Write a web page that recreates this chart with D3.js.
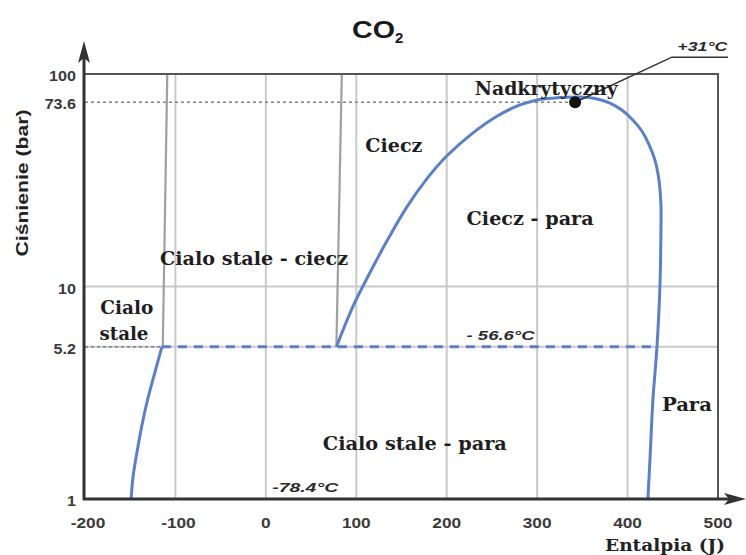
<!DOCTYPE html>
<html><head><meta charset="utf-8">
<script src="https://cdn.jsdelivr.net/npm/d3@7"></script>
<style>body{margin:0;background:#fff}svg{display:block}</style>
</head><body><svg id="c" width="746" height="555"></svg>
<script>
// ---- data ----
const xTicks = [-200, -100, 0, 100, 200, 300, 400, 500];
const yTicks = [1, 5.2, 10, 73.6, 100];
const yTickLabels = ["1", "5.2", "10", "73.6", "100"];
const gridX = [-100, 0, 100, 200, 300, 400];
const gridY = [5.2, 10];
// saturation dome (enthalpy J, pressure bar)
const domeH = [78, 96, 115, 134, 156, 178, 200, 226, 256, 281, 303, 325, 347, 364, 380.6, 393.6, 405.8, 415.8, 423.5, 430.2, 434.7, 436.9, 436.9, 435.8, 432.5, 428, 425, 422.5];
const domeP = [5.2, 8.0, 11.6, 16.4, 23.7, 32.1, 41.1, 51.6, 63.4, 71.5, 75.9, 77.5, 77.9, 76.7, 73.0, 67.7, 60.8, 53.9, 46.8, 39.4, 31.7, 24.2, 18.4, 10, 5.2, 2.92, 1.61, 1];
// sublimation curve
const sublH = [-115, -122.6, -130.3, -137, -142.5, -146.9, -149];
const sublP = [5.2, 3.96, 2.99, 2.23, 1.66, 1.27, 1];
// melting lines
const meltSolidH = [-114, -109], meltSolidP = [5.2, 100];
const meltLiquidH = [78, 84], meltLiquidP = [5.2, 100];
// triple point line
const tripleP = 5.2, tripleH = [-115, 432.5];
// critical point
const critH = 342, critP = 73.6;
const leaderH = [342, 449, 511], leaderP = [73.6, 120, 120];

// ---- setup ----
const svg = d3.select("#c");
const W = 746, H = 555;
const x = d3.scaleLinear().domain([-200, 500]).range([85, 718]);
const y = d3.scaleLog().domain([1, 100]).range([499, 74]);
const line = d3.line().x(d => x(d[0])).y(d => y(d[1]));
const smooth = d3.line().x(d => x(d[0])).y(d => y(d[1])).curve(d3.curveCatmullRom.alpha(0.5));
const zip = (a, b) => a.map((v, i) => [v, b[i]]);

const SERIF = "'DejaVu Serif', 'Liberation Serif', serif";
const SANS = "'Liberation Sans', Arial, sans-serif";
const BLUE = "#5a80cb";

svg.append("rect").attr("width", W).attr("height", H).attr("fill", "#fff");

// grid
svg.append("g").selectAll("line").data(gridX).join("line")
  .attr("x1", d => x(d)).attr("x2", d => x(d))
  .attr("y1", y(1)).attr("y2", y(100))
  .attr("stroke", "#c9c9c9").attr("stroke-width", 2);
svg.append("g").selectAll("line").data(gridY).join("line")
  .attr("x1", x(-200)).attr("x2", x(500))
  .attr("y1", d => y(d)).attr("y2", d => y(d))
  .attr("stroke", "#c9c9c9").attr("stroke-width", 2);

// melting lines (gray)
[[meltSolidH, meltSolidP], [meltLiquidH, meltLiquidP]].forEach(([h, p]) => {
  svg.append("path").attr("d", line(zip(h, p))).attr("fill", "none")
    .attr("stroke", "#a0a0a0").attr("stroke-width", 2.2);
});

// dotted reference lines
svg.append("line").attr("x1", x(-200)).attr("x2", x(critH))
  .attr("y1", y(critP)).attr("y2", y(critP))
  .attr("stroke", "#8a8080").attr("stroke-width", 1.6).attr("stroke-dasharray", "3,3");
svg.append("line").attr("x1", x(-200)).attr("x2", x(tripleH[0]))
  .attr("y1", y(tripleP)).attr("y2", y(tripleP))
  .attr("stroke", "#8a8a8a").attr("stroke-width", 1.6).attr("stroke-dasharray", "3,3");

// triple line blue dashed
svg.append("line").attr("x1", x(tripleH[0])).attr("x2", x(tripleH[1]))
  .attr("y1", y(tripleP)).attr("y2", y(tripleP))
  .attr("stroke", BLUE).attr("stroke-width", 3).attr("stroke-dasharray", "9,7");

// curves
svg.append("path").attr("d", smooth(zip(domeH, domeP))).attr("fill", "none")
  .attr("stroke", BLUE).attr("stroke-width", 3);
svg.append("path").attr("d", smooth(zip(sublH, sublP))).attr("fill", "none")
  .attr("stroke", BLUE).attr("stroke-width", 3);

// frame (top + right)
svg.append("path")
  .attr("d", `M${x(-200)},${y(100)}H${x(500)}V${y(1)}`)
  .attr("fill", "none").attr("stroke", "#555").attr("stroke-width", 2);

// axes with arrows
svg.append("line").attr("x1", x(-200) - 1).attr("x2", x(-200) - 1)
  .attr("y1", y(1) + 1).attr("y2", 56).attr("stroke", "#333").attr("stroke-width", 3);
svg.append("path").attr("d", `M${x(-200) - 1},41L${x(-200) - 7},63L${x(-200) - 1},58L${x(-200) + 5},63Z`).attr("fill", "#333");
svg.append("line").attr("x1", x(-200) - 2).attr("x2", 735)
  .attr("y1", y(1)).attr("y2", y(1)).attr("stroke", "#333").attr("stroke-width", 3);
svg.append("path").attr("d", `M746,${y(1)}L724,${y(1) - 6}L729,${y(1)}L724,${y(1) + 6}Z`).attr("fill", "#333");

// tick labels
svg.append("g").selectAll("text").data(xTicks).join("text")
  .attr("x", d => x(d) + (d < 0 ? 3 : 0)).attr("y", 522)
  .attr("text-anchor", "middle").attr("dominant-baseline", "central")
  .attr("font-family", SANS).attr("font-weight", "bold").attr("font-size", 15)
  .attr("fill", "#3a3a3a").text(d => d)
  .each(function () { const n = this.getComputedTextLength(); d3.select(this).attr("textLength", n * 1.15).attr("lengthAdjust", "spacingAndGlyphs"); });
svg.append("g").selectAll("text").data(yTicks).join("text")
  .attr("x", 76).attr("y", d => y(d) + 2)
  .attr("text-anchor", "end").attr("dominant-baseline", "central")
  .attr("font-family", SANS).attr("font-weight", "bold").attr("font-size", 14)
  .attr("fill", "#3a3a3a").text((d, i) => yTickLabels[i])
  .each(function () { const n = this.getComputedTextLength(); d3.select(this).attr("textLength", n * 1.15).attr("lengthAdjust", "spacingAndGlyphs"); });

// critical point & leader
svg.append("path").attr("d", line(zip(leaderH, leaderP))).attr("fill", "none")
  .attr("stroke", "#333").attr("stroke-width", 1.5);
svg.append("circle").attr("cx", x(critH)).attr("cy", y(critP)).attr("r", 6).attr("fill", "#111");

// region labels
const labels = [
  {t: "Nadkrytyczny", h: 231, p: 85.9, w: 143},
  {t: "Ciecz", h: 110, p: 46.3, w: 57},
  {t: "Ciecz - para", h: 222, p: 21.0, w: 127},
  {t: "Cialo stale - ciecz", h: -117, p: 13.6, w: 188},
  {t: "Cialo", h: -183, p: 8.0, w: 53},
  {t: "stale", h: -184, p: 6.04, w: 49},
  {t: "Cialo stale - para", h: 63, p: 1.83, w: 184},
  {t: "Para", h: 438, p: 2.77, w: 50}
];
svg.append("g").selectAll("text").data(labels).join("text")
  .attr("x", d => x(d.h)).attr("y", d => y(d.p))
  .attr("dominant-baseline", "central")
  .attr("font-family", SERIF).attr("font-weight", "bold").attr("font-size", 18)
  .attr("fill", "#1e1e1e")
  .attr("textLength", d => d.w).attr("lengthAdjust", "spacingAndGlyphs")
  .text(d => d.t);

const temps = [
  {t: "-78.4°C", h: 7, p: 1.127, w: 66},
  {t: "- 56.6°C", h: 222, p: 5.91, w: 68},
  {t: "+31°C", h: 455, p: 134, w: 50}
];
svg.append("g").selectAll("text").data(temps).join("text")
  .attr("x", d => x(d.h)).attr("y", d => y(d.p))
  .attr("dominant-baseline", "central")
  .attr("font-family", SANS).attr("font-weight", "bold").attr("font-style", "italic").attr("font-size", 13)
  .attr("fill", "#2a2a2a")
  .attr("textLength", d => d.w).attr("lengthAdjust", "spacingAndGlyphs")
  .text(d => d.t);

// title
svg.append("text").attr("x", 352).attr("y", 38)
  .attr("font-family", SANS).attr("font-weight", "bold").attr("font-size", 23)
  .attr("fill", "#1a1a1a").attr("textLength", 43).attr("lengthAdjust", "spacingAndGlyphs").text("CO");
svg.append("text").attr("x", 395).attr("y", 43)
  .attr("font-family", SANS).attr("font-weight", "bold").attr("font-size", 15)
  .attr("fill", "#1a1a1a").text("2");

// axis titles
svg.append("text").attr("transform", "translate(22,183) rotate(-90)")
  .attr("text-anchor", "middle").attr("dominant-baseline", "central")
  .attr("font-family", SANS).attr("font-weight", "bold").attr("font-size", 17)
  .attr("fill", "#222").attr("textLength", 147).attr("lengthAdjust", "spacingAndGlyphs")
  .text("Ciśnienie (bar)");
svg.append("text").attr("x", 605).attr("y", 545)
  .attr("dominant-baseline", "central")
  .attr("font-family", SERIF).attr("font-weight", "bold").attr("font-size", 17)
  .attr("fill", "#222").attr("textLength", 120).attr("lengthAdjust", "spacingAndGlyphs")
  .text("Entalpia (J)");
</script></body></html>
